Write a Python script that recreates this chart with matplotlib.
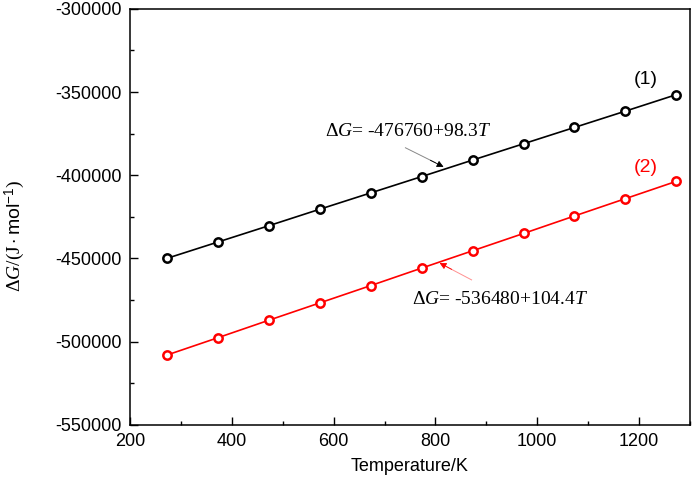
import matplotlib
matplotlib.use("Agg")
import matplotlib.pyplot as plt
from matplotlib.ticker import MultipleLocator

plt.rcParams['font.family'] = ['Liberation Sans', 'DejaVu Sans']
plt.rcParams['axes.unicode_minus'] = False
plt.rcParams['mathtext.fontset'] = 'custom'
plt.rcParams['mathtext.rm'] = 'Liberation Serif'
plt.rcParams['mathtext.it'] = 'Liberation Serif:italic'
plt.rcParams['mathtext.sf'] = 'Liberation Sans'

# temperatures (K) and Gibbs energy (J/mol)
temps = [273, 373, 473, 573, 673, 773, 873, 973, 1073, 1173, 1273]
dg1 = [-449900, -440100, -430300, -420400, -410600, -400800,
       -390900, -381100, -371300, -361500, -351600]
dg2 = [-508000, -497600, -487100, -476700, -466300, -455800,
       -445400, -435000, -424500, -414100, -403700]

eq1 = r'$\Delta G$= -476760+98.3$T$'
eq2 = r'$\Delta G$= -536480+104.4$T$'

fig = plt.figure(figsize=(6.92, 4.90), dpi=100)
ax = fig.add_axes([0.188, 0.133, 0.809, 0.849])

ax.plot(temps, dg1, color='black', lw=1.2, marker='o', ms=6,
        mfc='white', mec='black', mew=1.8)
ax.plot(temps, dg2, color='red', lw=1.2, marker='o', ms=6,
        mfc='white', mec='red', mew=1.8)

ax.set_xlim(200, 1300)
ax.set_ylim(-550000, -300000)
ax.xaxis.set_major_locator(MultipleLocator(200))
ax.xaxis.set_minor_locator(MultipleLocator(100))
ax.yaxis.set_major_locator(MultipleLocator(50000))
ax.yaxis.set_minor_locator(MultipleLocator(25000))
ax.tick_params(which='both', direction='in', top=False, right=False,
               labelsize=13, width=1)
ax.tick_params(which='major', length=6, pad=6)
ax.tick_params(which='minor', length=3)
for s in ax.spines.values():
    s.set_linewidth(1.1)

ax.set_xlabel('Temperature/K', fontsize=13, labelpad=6)
ax.set_ylabel(r'$\Delta G/(\mathrm{J}\cdot\mathsf{mol}^{\mathsf{-1}})$',
              fontsize=14)
ax.yaxis.set_label_coords(-0.185, 0.454)

# equation labels with arrows
ax.plot([741, 800], [-383500, -392500], color='#888888', lw=0.7)
ax.plot([871, 822], [-462900, -455000], color='#ff9090', lw=0.7)
ax.annotate('', xy=(816, -395000), xytext=(790, -391000),
            arrowprops=dict(arrowstyle='-|>', color='black', lw=0.6,
                            mutation_scale=10, shrinkA=0, shrinkB=0))
ax.annotate('', xy=(808, -452700), xytext=(832, -456600),
            arrowprops=dict(arrowstyle='-|>', color='red', lw=0.6,
                            mutation_scale=10, shrinkA=0, shrinkB=0))
ax.text(582, -373900, eq1, fontsize=14, va='center', ha='left',
        family=['Liberation Serif', 'DejaVu Serif'])
ax.text(753, -474900, eq2, fontsize=14, va='center', ha='left',
        family=['Liberation Serif', 'DejaVu Serif'])

ax.text(1214, -342700, '(1)', fontsize=14, color='black', ha='center', va='center')
ax.text(1214, -395600, '(2)', fontsize=14, color='red', ha='center', va='center')

fig.savefig('out.png', dpi=100)
